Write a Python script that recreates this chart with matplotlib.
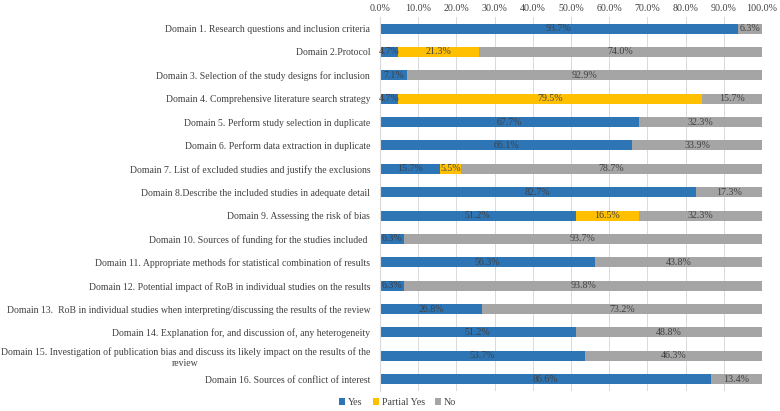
import numpy as np
import matplotlib.pyplot as plt
from matplotlib.ticker import FuncFormatter

domains = [
    "Domain 1. Research questions and inclusion criteria",
    "Domain 2.Protocol",
    "Domain 3. Selection of the study designs for inclusion",
    "Domain 4. Comprehensive literature search strategy",
    "Domain 5. Perform study selection in duplicate",
    "Domain 6. Perform data extraction in duplicate",
    "Domain 7. List of excluded studies and justify the exclusions",
    "Domain 8.Describe the included studies in adequate detail",
    "Domain 9. Assessing the risk of bias",
    "Domain 10. Sources of funding for the studies included ",
    "Domain 11. Appropriate methods for statistical combination of results",
    "Domain 12. Potential impact of RoB in individual studies on the results",
    "Domain 13.  RoB in individual studies when interpreting/discussing the results of the review",
    "Domain 14. Explanation for, and discussion of, any heterogeneity",
    "Domain 15. Investigation of publication bias and discuss its likely impact on the results of the\nreview",
    "Domain 16. Sources of conflict of interest",
]
yes = [93.7, 4.7, 7.1, 4.7, 67.7, 66.1, 15.7, 82.7, 51.2, 6.3, 56.3, 6.3, 26.8, 51.2, 53.7, 86.6]
partial_yes = [0, 21.3, 0, 79.5, 0, 0, 5.5, 0, 16.5, 0, 0, 0, 0, 0, 0, 0]
no = [6.3, 74.0, 92.9, 15.7, 32.3, 33.9, 78.7, 17.3, 32.3, 93.7, 43.8, 93.8, 73.2, 48.8, 46.3, 13.4]

series = [("Yes", yes, "#2E75B6"), ("Partial Yes", partial_yes, "#FFC000"), ("No", no, "#A5A5A5")]

plt.rcParams['font.family'] = ['Liberation Serif', 'DejaVu Serif']
fs = 7.0
txt = "#404040"

fig = plt.figure(figsize=(7.8, 4.11), dpi=100)
ax = fig.add_axes([0.487, 0.049, 0.490, 0.910])

y = np.arange(len(domains))
left = np.zeros(len(domains))
for name, vals, col in series:
    vals = np.array(vals) / 100
    ax.barh(y, vals, left=left, height=0.43, color=col, label=name, zorder=2)
    for yi, (l, v) in enumerate(zip(left, vals)):
        if v > 0:
            ax.text(l + v / 2, yi, f"{v*100:.1f}%", ha='center', va='center',
                    fontsize=7.2, color=txt, zorder=3)
    left += vals

ax.set_ylim(len(domains) - 0.5, -0.5)
ax.set_xlim(0, 1)
ax.set_yticks(y)
ax.set_yticklabels(domains, fontsize=fs, color=txt, multialignment='center')
ax.set_xticks(np.arange(0, 1.01, 0.1))
ax.xaxis.set_major_formatter(FuncFormatter(lambda v, p: f"{v*100:.1f}%"))
ax.xaxis.tick_top()
ax.tick_params(axis='x', labelsize=7.2, labelcolor=txt, length=0, pad=3)
ax.tick_params(axis='y', length=0, pad=7)
ax.grid(axis='x', color='#D9D9D9', linewidth=0.7, zorder=0)
for s in ['top', 'right', 'bottom']:
    ax.spines[s].set_visible(False)
ax.spines['left'].set_color('#D9D9D9')

fig.legend(loc='lower center', bbox_to_anchor=(0.51, -0.012), ncol=3, frameon=False,
           fontsize=7.2, handlelength=0.6, handleheight=0.6, handletextpad=0.3,
           columnspacing=1.0, labelcolor=txt)

fig.savefig('out.png', dpi=100)
